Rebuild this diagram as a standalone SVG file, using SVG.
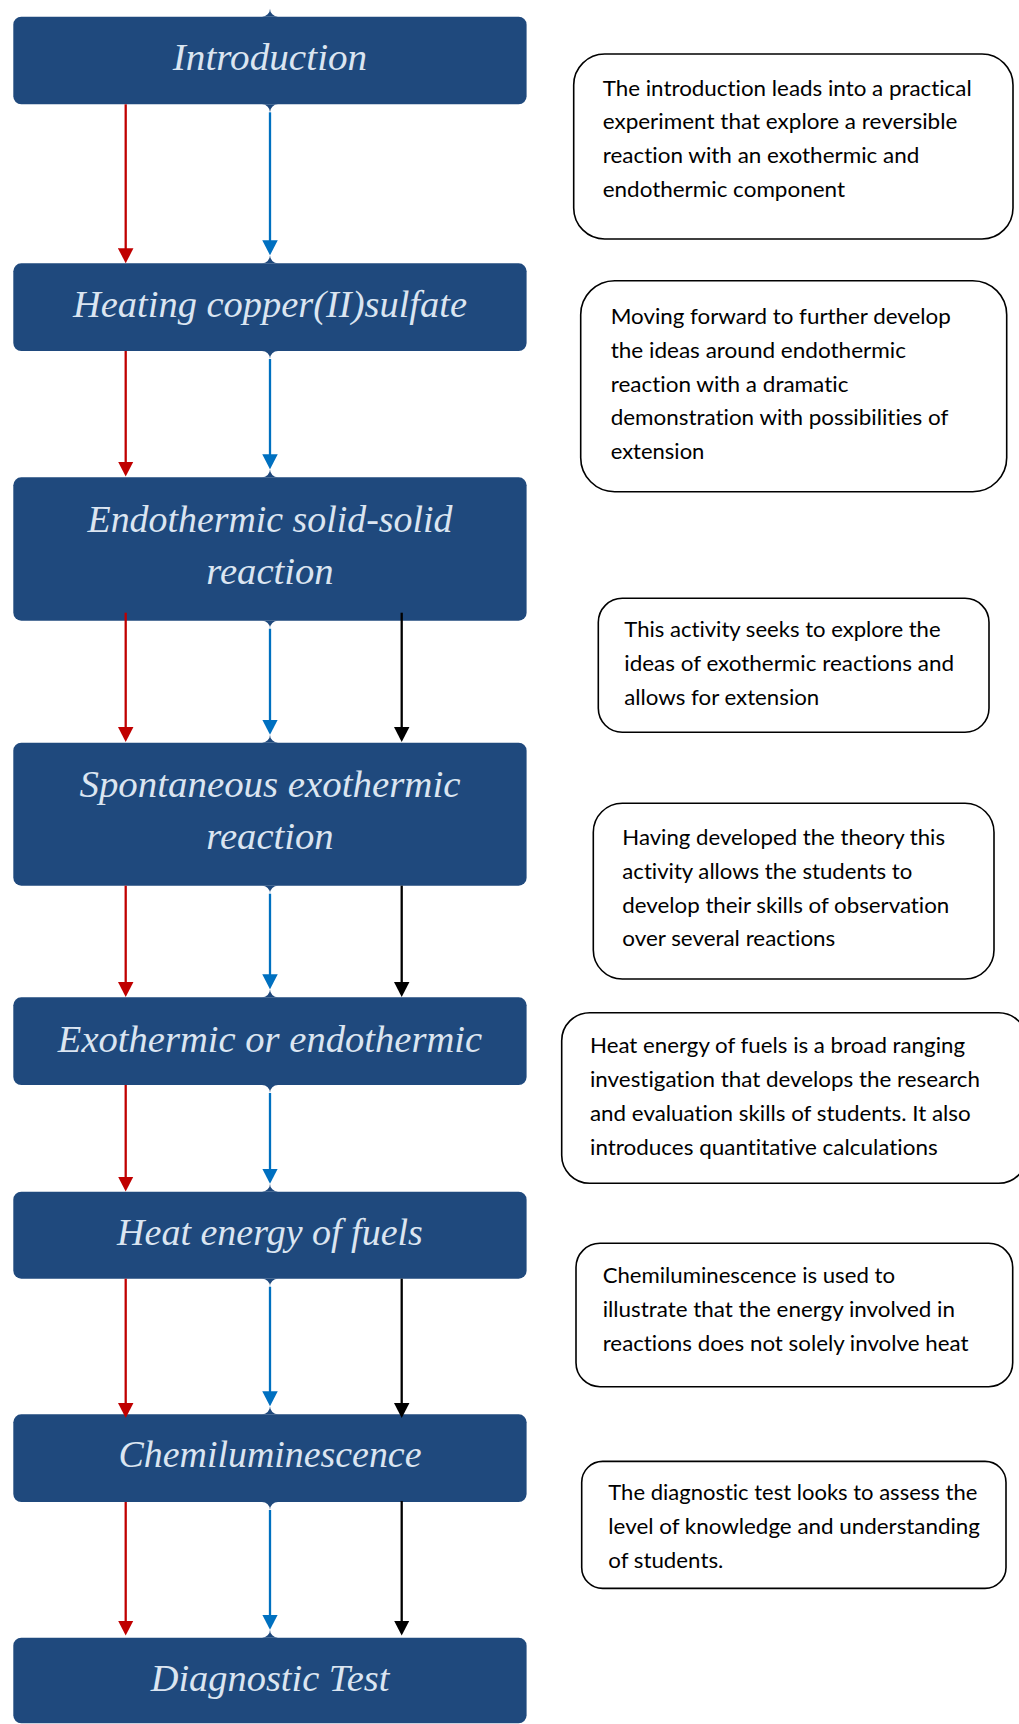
<svg xmlns="http://www.w3.org/2000/svg" width="1019" height="1724" viewBox="0 0 1019 1724">
<style>
.node rect, .node path { fill: #1f497d; }
.title { font-family: "Liberation Serif", "Times New Roman", serif; font-style: italic; font-size: 37px; fill: #dbe5f1; text-anchor: middle; }
.note rect { fill: #ffffff; stroke: #000000; stroke-width: 1.6; }
.note text { font-family: Lato, "Liberation Sans", sans-serif; font-size: 22px; fill: #000000; font-variant-ligatures: none; font-feature-settings: "liga" 0, "clig" 0; }
.c line { stroke-width: 2.3; fill: none; }
.r { stroke: #c00000; marker-end: url(#ar); }
.b { stroke: #0070c0; marker-end: url(#ab); }
.k { stroke: #000000; marker-end: url(#ak); }
</style>
<defs>
<marker id="ar" viewBox="0 0 15 16" refX="7" refY="8" markerWidth="15" markerHeight="16" markerUnits="userSpaceOnUse" orient="auto"><path d="M0,0.25 L15,8 L0,15.75 Z" fill="#c00000"/></marker>
<marker id="ab" viewBox="0 0 15 16" refX="7" refY="8" markerWidth="15" markerHeight="16" markerUnits="userSpaceOnUse" orient="auto"><path d="M0,0.25 L15,8 L0,15.75 Z" fill="#0070c0"/></marker>
<marker id="ak" viewBox="0 0 15 16" refX="7" refY="8" markerWidth="15" markerHeight="16" markerUnits="userSpaceOnUse" orient="auto"><path d="M0,0.25 L15,8 L0,15.75 Z" fill="#000000"/></marker>
</defs>

<g id="node-introduction" class="node">
<rect x="13.3" y="16.7" width="513.3" height="87.6" rx="8"/>
<path d="M262 16.7 A8 8 0 0 0 270 8.7 A8 8 0 0 0 278 16.7 Z"/>
<path d="M262 104.3 L278 104.3 A8 8 0 0 0 270 112.3 A8 8 0 0 0 262 104.3 Z"/>
<text class="title" x="270" y="70.2" textLength="194.4" lengthAdjust="spacingAndGlyphs">Introduction</text>
</g>

<g id="node-heating" class="node">
<rect x="13.3" y="263.3" width="513.3" height="87.7" rx="8"/>
<path d="M262 263.3 A8 8 0 0 0 270 255.3 A8 8 0 0 0 278 263.3 Z"/>
<path d="M262 351 L278 351 A8 8 0 0 0 270 359 A8 8 0 0 0 262 351 Z"/>
<text class="title" x="270" y="316.6" textLength="394" lengthAdjust="spacingAndGlyphs">Heating copper(II)sulfate</text>
</g>

<g id="node-endothermic" class="node">
<rect x="13.3" y="477.3" width="513.3" height="143.4" rx="8"/>
<path d="M262 477.3 A8 8 0 0 0 270 469.3 A8 8 0 0 0 278 477.3 Z"/>
<path d="M262 620.7 L278 620.7 A8 8 0 0 0 270 628.7 A8 8 0 0 0 262 620.7 Z"/>
<text class="title" x="270" y="531.8" textLength="365" lengthAdjust="spacingAndGlyphs">Endothermic solid-solid</text>
<text class="title" x="270" y="583.8" textLength="127.4" lengthAdjust="spacingAndGlyphs">reaction</text>
</g>

<g id="node-spontaneous" class="node">
<rect x="13.3" y="742.7" width="513.3" height="143" rx="8"/>
<path d="M262 742.7 A8 8 0 0 0 270 734.7 A8 8 0 0 0 278 742.7 Z"/>
<path d="M262 885.7 L278 885.7 A8 8 0 0 0 270 893.7 A8 8 0 0 0 262 885.7 Z"/>
<text class="title" x="270" y="796.8" textLength="381" lengthAdjust="spacingAndGlyphs">Spontaneous exothermic</text>
<text class="title" x="270" y="849.3" textLength="127.4" lengthAdjust="spacingAndGlyphs">reaction</text>
</g>

<g id="node-exo-endo" class="node">
<rect x="13.3" y="997.3" width="513.3" height="87.7" rx="8"/>
<path d="M262 997.3 A8 8 0 0 0 270 989.3 A8 8 0 0 0 278 997.3 Z"/>
<path d="M262 1085 L278 1085 A8 8 0 0 0 270 1093 A8 8 0 0 0 262 1085 Z"/>
<text class="title" x="270" y="1051.5" textLength="424.3" lengthAdjust="spacingAndGlyphs">Exothermic or endothermic</text>
</g>

<g id="node-fuels" class="node">
<rect x="13.3" y="1191.7" width="513.3" height="87" rx="8"/>
<path d="M262 1191.7 A8 8 0 0 0 270 1183.7 A8 8 0 0 0 278 1191.7 Z"/>
<path d="M262 1278.7 L278 1278.7 A8 8 0 0 0 270 1286.7 A8 8 0 0 0 262 1278.7 Z"/>
<text class="title" x="270" y="1244.5" textLength="305.8" lengthAdjust="spacingAndGlyphs">Heat energy of fuels</text>
</g>

<g id="node-chemiluminescence" class="node">
<rect x="13.3" y="1414.3" width="513.3" height="87.7" rx="8"/>
<path d="M262 1414.3 A8 8 0 0 0 270 1406.3 A8 8 0 0 0 278 1414.3 Z"/>
<path d="M262 1502 L278 1502 A8 8 0 0 0 270 1510 A8 8 0 0 0 262 1502 Z"/>
<text class="title" x="270" y="1467" textLength="303" lengthAdjust="spacingAndGlyphs">Chemiluminescence</text>
</g>

<g id="node-diagnostic" class="node">
<rect x="13.3" y="1637.7" width="513.3" height="85.6" rx="8"/>
<path d="M262 1637.7 A8 8 0 0 0 270 1629.7 A8 8 0 0 0 278 1637.7 Z"/>
<text class="title" x="270" y="1690.7" textLength="238.7" lengthAdjust="spacingAndGlyphs">Diagnostic Test</text>
</g>

<g id="connectors" class="c">
<line class="r" x1="125.7" y1="104.3" x2="125.7" y2="255.3"/>
<line class="b" x1="270" y1="112.3" x2="270" y2="247.3"/>

<line class="r" x1="125.7" y1="351" x2="125.7" y2="468.5"/>
<line class="b" x1="270" y1="359" x2="270" y2="461.3"/>

<line class="r" x1="125.7" y1="612.7" x2="125.7" y2="734"/>
<line class="b" x1="270" y1="628.7" x2="270" y2="726.7"/>
<line class="k" x1="401.7" y1="612.7" x2="401.7" y2="734"/>

<line class="r" x1="125.7" y1="885.7" x2="125.7" y2="989"/>
<line class="b" x1="270" y1="893.7" x2="270" y2="981.3"/>
<line class="k" x1="401.7" y1="885.7" x2="401.7" y2="989"/>

<line class="r" x1="125.7" y1="1085" x2="125.7" y2="1183.5"/>
<line class="b" x1="270" y1="1093" x2="270" y2="1175.7"/>

<line class="r" x1="125.7" y1="1278.7" x2="125.7" y2="1410"/>
<line class="b" x1="270" y1="1286.7" x2="270" y2="1398.3"/>
<line class="k" x1="401.7" y1="1278.7" x2="401.7" y2="1410"/>

<line class="r" x1="125.7" y1="1502" x2="125.7" y2="1627.5"/>
<line class="b" x1="270" y1="1510" x2="270" y2="1621.7"/>
<line class="k" x1="401.7" y1="1501" x2="401.7" y2="1627.5"/>
</g>

<g id="note-introduction" class="note">
<rect x="573.7" y="54" width="439.3" height="185" rx="31"/>
<text x="602.7" y="95.5" textLength="369" lengthAdjust="spacingAndGlyphs">The introduction leads into a practical</text>
<text x="602.7" y="129.3" textLength="354.7" lengthAdjust="spacingAndGlyphs">experiment that explore a reversible</text>
<text x="602.7" y="163.1" textLength="316.7" lengthAdjust="spacingAndGlyphs">reaction with an exothermic and</text>
<text x="602.7" y="196.9" textLength="242.3" lengthAdjust="spacingAndGlyphs">endothermic component</text>
</g>

<g id="note-heating" class="note">
<rect x="580.7" y="280.7" width="426" height="211" rx="34"/>
<text x="610.7" y="324" textLength="340" lengthAdjust="spacingAndGlyphs">Moving forward to further develop</text>
<text x="610.7" y="357.8" textLength="295.3" lengthAdjust="spacingAndGlyphs">the ideas around endothermic</text>
<text x="610.7" y="391.6" textLength="237.7" lengthAdjust="spacingAndGlyphs">reaction with a dramatic</text>
<text x="610.7" y="425.4" textLength="337.7" lengthAdjust="spacingAndGlyphs">demonstration with possibilities of</text>
<text x="610.7" y="459.2" textLength="93.7" lengthAdjust="spacingAndGlyphs">extension</text>
</g>

<g id="note-exothermic" class="note">
<rect x="598.3" y="598.3" width="390.7" height="134" rx="24"/>
<text x="624.3" y="637.3" textLength="316.3" lengthAdjust="spacingAndGlyphs">This activity seeks to explore the</text>
<text x="624.3" y="671" textLength="329.7" lengthAdjust="spacingAndGlyphs">ideas of exothermic reactions and</text>
<text x="624.3" y="704.6" textLength="195" lengthAdjust="spacingAndGlyphs">allows for extension</text>
</g>

<g id="note-observation" class="note">
<rect x="593.3" y="803.3" width="400.7" height="175.7" rx="29"/>
<text x="622.3" y="845" textLength="322.7" lengthAdjust="spacingAndGlyphs">Having developed the theory this</text>
<text x="622.3" y="878.8" textLength="290" lengthAdjust="spacingAndGlyphs">activity allows the students to</text>
<text x="622.3" y="912.6" textLength="327" lengthAdjust="spacingAndGlyphs">develop their skills of observation</text>
<text x="622.3" y="946.4" textLength="213" lengthAdjust="spacingAndGlyphs">over several reactions</text>
</g>

<g id="note-fuels" class="note">
<rect x="561.7" y="1012.7" width="465" height="170.6" rx="28"/>
<text x="590" y="1053.3" textLength="375" lengthAdjust="spacingAndGlyphs">Heat energy of fuels is a broad ranging</text>
<text x="590" y="1087.1" textLength="390" lengthAdjust="spacingAndGlyphs">investigation that develops the research</text>
<text x="590" y="1120.9" textLength="380.7" lengthAdjust="spacingAndGlyphs">and evaluation skills of students. It also</text>
<text x="590" y="1154.7" textLength="347.7" lengthAdjust="spacingAndGlyphs">introduces quantitative calculations</text>
</g>

<g id="note-chemiluminescence" class="note">
<rect x="576" y="1243.3" width="436.7" height="143.4" rx="24"/>
<text x="602.7" y="1283.3" textLength="292.3" lengthAdjust="spacingAndGlyphs">Chemiluminescence is used to</text>
<text x="602.7" y="1317.1" textLength="352.3" lengthAdjust="spacingAndGlyphs">illustrate that the energy involved in</text>
<text x="602.7" y="1350.9" textLength="365.7" lengthAdjust="spacingAndGlyphs">reactions does not solely involve heat</text>
</g>

<g id="note-diagnostic" class="note">
<rect x="581.7" y="1461.4" width="424.3" height="127" rx="21"/>
<text x="608.3" y="1500.4" textLength="369" lengthAdjust="spacingAndGlyphs">The diagnostic test looks to assess the</text>
<text x="608.3" y="1534" textLength="371.7" lengthAdjust="spacingAndGlyphs">level of knowledge and understanding</text>
<text x="608.3" y="1567.6" textLength="115" lengthAdjust="spacingAndGlyphs">of students.</text>
</g>
</svg>
